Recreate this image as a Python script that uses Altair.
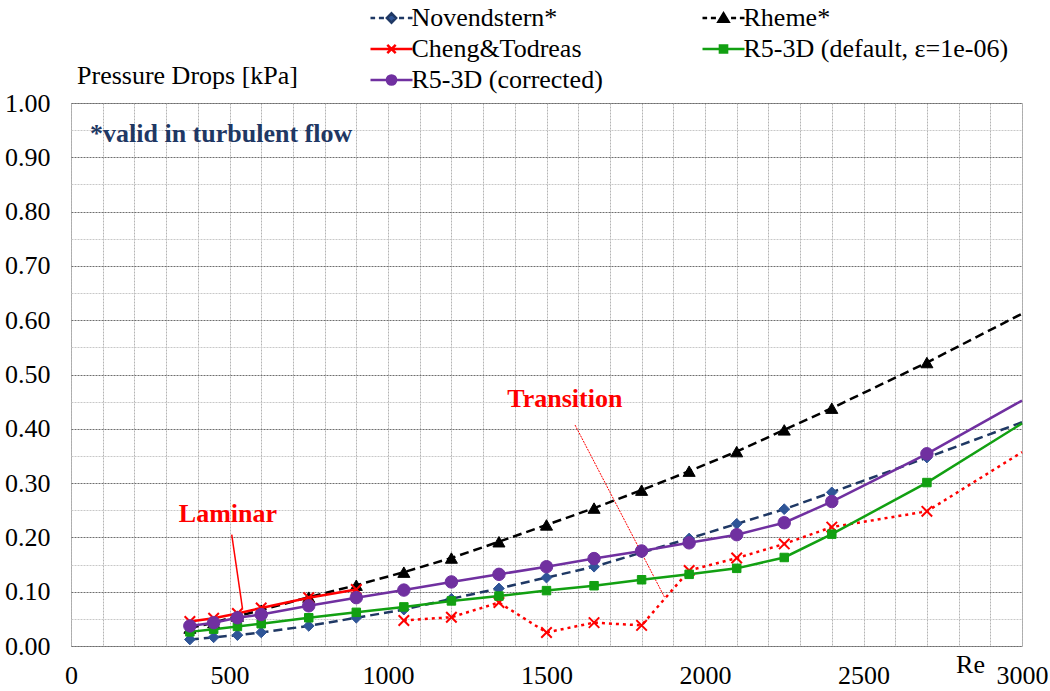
import altair as alt
import pandas as pd

# Reynolds numbers of the computed cases
RE = [375, 450, 525, 600, 750, 900, 1050, 1200, 1350, 1500, 1650, 1800,
      1950, 2100, 2250, 2400, 2700, 3000]

# Pressure drops [kPa]
NOVENDSTERN = [0.012, 0.016, 0.020, 0.025, 0.037, 0.052, 0.067, 0.087, 0.106,
               0.126, 0.146, 0.172, 0.198, 0.225, 0.252, 0.283, 0.347, 0.412]
RHEME = [0.033, 0.043, 0.055, 0.066, 0.090, 0.112, 0.136, 0.162, 0.192,
         0.223, 0.254, 0.287, 0.322, 0.358, 0.398, 0.438, 0.522, 0.612]
CHENG_LAMINAR_RE = [375, 450, 525, 600, 750, 900]
CHENG_LAMINAR = [0.045, 0.051, 0.060, 0.070, 0.089, 0.104]
CHENG_TURB_RE = [1050, 1200, 1350, 1500, 1650, 1800, 1950, 2100, 2250, 2400,
                 2700, 3000]
CHENG_TURB = [0.047, 0.053, 0.080, 0.025, 0.043, 0.038, 0.139, 0.162, 0.188,
              0.219, 0.248, 0.357]
R5_DEFAULT = [0.026, 0.031, 0.036, 0.041, 0.052, 0.062, 0.072, 0.083, 0.092,
              0.102, 0.111, 0.122, 0.132, 0.143, 0.163, 0.206, 0.301, 0.410]
R5_CORRECTED = [0.037, 0.043, 0.052, 0.058, 0.074, 0.089, 0.103, 0.118, 0.132,
                0.146, 0.161, 0.175, 0.190, 0.205, 0.227, 0.266, 0.354, 0.452]

SERIES = ["Novendstern*", "Rheme*", "Cheng&Todreas",
          "R5-3D (default, ε=1e-06)", "R5-3D (corrected)"]
LINE_COLORS = ["#1F3864", "#000000", "#FF0000", "#12A012", "#7030A0"]
MARKER_COLORS = ["#2F5597", "#000000", "#FF0000", "#12A012", "#7030A0"]

# Tick values
X_TICKS = list(range(0, 3001, 100))
Y_TICKS = [round(i * 0.05, 2) for i in range(21)]

# Annotations
NOTE_TEXT = ["Laminar", "Transition"]
NOTE_RE = [495, 1558]
NOTE_DP = [0.228, 0.440]
PTR_RE = [507, 1590]
PTR_DP = [0.205, 0.407]
PTR_RE2 = [541, 1874]
PTR_DP2 = [0.069, 0.088]
VALID_TEXT = "*valid in turbulent flow"
VALID_RE = 60
VALID_DP = 0.928

FONT = "Liberation Serif"
TXT = 26
X_PT = "M-1,-1L1,1M-1,1L1,-1"

# Legend glyphs: line sample with the marker in the middle (unit box -2..2)
DASHES = "M-2,0H-1.56M-1.2,0H-0.72M0.72,0H1.2M1.56,0H2"
SOLID = "M-2,0H2"
LEGEND_PATHS = [
    DASHES + "M0,-0.44L0.44,0L0,0.44L-0.44,0Z",
    DASHES + "M0,-0.44L0.48,0.36L-0.48,0.36Z",
    SOLID + "M-0.4,-0.4L0.4,0.4M-0.4,0.4L0.4,-0.4",
    SOLID + "M-0.34,-0.34H0.34V0.34H-0.34Z",
    SOLID + "M0.44,0A0.44,0.44,0,1,1,-0.44,0A0.44,0.44,0,1,1,0.44,0Z",
]

legend = alt.Legend(
    title=None, orient="none", direction="horizontal", legendX=297,
    legendY=-98, columns=2, columnPadding=94, rowPadding=5, padding=0,
    labelFont=FONT, labelFontSize=TXT, labelColor="black", labelOffset=7,
    labelLimit=500, symbolSize=441, symbolOffset=10.5, symbolStrokeWidth=2.5,
    symbolOpacity=1,
)

x_axis = alt.Axis(
    values=X_TICKS, labelExpr="datum.value % 500 === 0 ? datum.label : ''",
    format="d", grid=True, gridColor="#B4B4B4", gridDash=[2, 1], gridWidth=1,
    domain=False, ticks=False, tickSize=0, labelFont=FONT, labelFontSize=TXT,
    labelColor="black", labelPadding=16, labelFlush=False, labelOverlap=False,
    title="Re", titleFont=FONT, titleFontSize=TXT, titleFontWeight="normal",
    titleColor="black", titleX=899, titleY=26, titleAlign="center",
    titleBaseline="alphabetic",
)
y_axis = alt.Axis(
    values=Y_TICKS,
    labelExpr="round(datum.value*100) % 10 === 0 ? format(datum.value, '.2f') : ''",
    grid=True,
    gridColor={"condition": {"test": "round(datum.value*100) % 10 === 0",
                             "value": "#6E6E6E"},
               "value": "#C8C8C8"},
    gridDash=[2, 1], gridWidth=1, domain=False, ticks=False, tickSize=0,
    labelFont=FONT, labelFontSize=TXT, labelColor="black", labelPadding=21,
    labelOverlap=False,
    title="Pressure Drops [kPa]", titleFont=FONT, titleFontSize=TXT,
    titleFontWeight="normal", titleColor="black", titleAngle=0,
    titleX=116, titleY=-20, titleAlign="center", titleBaseline="alphabetic",
)

X_SCALE = alt.Scale(domain=[0, 3000], nice=False, zero=False)
Y_SCALE = alt.Scale(domain=[0, 1], nice=False, zero=False)
X = alt.X("re:Q", scale=X_SCALE, axis=x_axis)
Y = alt.Y("dp:Q", scale=Y_SCALE, axis=y_axis)


def frame(name, re, dp):
    return pd.DataFrame({"series": name, "re": re, "dp": dp})


# (series index, line pieces [(re, dp, dash)], marker shape, size, stroke width)
SPECS = [
    (0, [(RE, NOVENDSTERN, [9, 5])], "diamond", 115, 1),
    (1, [(RE, RHEME, [9, 5])], "triangle-up", 145, 1),
    (2, [(CHENG_LAMINAR_RE, CHENG_LAMINAR, None),
         (CHENG_TURB_RE, CHENG_TURB, [3, 4])], X_PT, 110, 2),
    (3, [(RE, R5_DEFAULT, None)], "square", 72, 1),
    (4, [(RE, R5_CORRECTED, None)], "circle", 155, 1),
]

layers = []
all_frames = []
for idx, pieces, shape, size, sw in SPECS:
    name = SERIES[idx]
    all_re, all_dp = [], []
    for re, dp, dash in pieces:
        line_kw = dict(color=LINE_COLORS[idx], strokeWidth=2.5)
        if dash:
            line_kw["strokeDash"] = dash
        layers.append(alt.Chart(frame(name, re, dp)).mark_line(**line_kw)
                      .encode(x=X, y=Y))
        all_re += re
        all_dp += dp
    pts = frame(name, all_re, all_dp)
    all_frames.append(pts)
    layers.append(
        alt.Chart(pts).transform_filter("datum.re < 3000")
        .mark_point(filled=True, shape=shape, size=size, opacity=1,
                    fill=MARKER_COLORS[idx], stroke=MARKER_COLORS[idx],
                    strokeWidth=sw)
        .encode(x=X, y=Y)
    )

# Legend carrier: shares the series scales, draws no marks of its own
legend_layer = (
    alt.Chart(pd.concat(all_frames)).transform_filter("false")
    .mark_point(filled=True, opacity=1)
    .encode(
        x=X, y=Y,
        color=alt.Color("series:N", scale=alt.Scale(domain=SERIES, range=MARKER_COLORS),
                        legend=legend),
        stroke=alt.Stroke("series:N", scale=alt.Scale(domain=SERIES, range=LINE_COLORS),
                          legend=legend),
        shape=alt.Shape("series:N", scale=alt.Scale(domain=SERIES, range=LEGEND_PATHS),
                        legend=legend),
    )
)

notes = pd.DataFrame({"text": NOTE_TEXT, "re": NOTE_RE, "dp": NOTE_DP,
                      "re2": PTR_RE2, "dp2": PTR_DP2,
                      "pre": PTR_RE, "pdp": PTR_DP})

PX = alt.X("pre:Q", scale=X_SCALE, axis=x_axis)
PY = alt.Y("pdp:Q", scale=Y_SCALE, axis=y_axis)
laminar_ptr = alt.Chart(notes.iloc[[0]]).mark_rule(
    color="#FF0000", strokeWidth=1.5).encode(x=PX, y=PY, x2="re2:Q", y2="dp2:Q")
transition_ptr = alt.Chart(notes.iloc[[1]]).mark_rule(
    color="#FF0000", strokeWidth=1, strokeDash=[2, 1]).encode(
    x=PX, y=PY, x2="re2:Q", y2="dp2:Q")
note_text = alt.Chart(notes).mark_text(
    font=FONT, fontSize=26, fontWeight="bold", color="#FF0000",
    align="center", baseline="alphabetic").encode(x=X, y=Y, text="text:N")
valid_text = alt.Chart(pd.DataFrame({"re": [VALID_RE], "dp": [VALID_DP],
                                     "text": [VALID_TEXT]})).mark_text(
    font=FONT, fontSize=26, fontWeight="bold", color="#1F3864",
    align="left", baseline="alphabetic").encode(x=X, y=Y, text="text:N")

chart = alt.layer(
    laminar_ptr, transition_ptr, *layers, legend_layer, note_text, valid_text
).properties(
    width=951, height=543,
    autosize=alt.AutoSizeParams(type="none"),
    padding={"left": 71, "top": 103, "right": 28, "bottom": 45},
    background="white",
).configure(
    font=FONT,
).configure_axis(
    labelFont=FONT, titleFont=FONT,
).configure_legend(
    labelFont=FONT,
).configure_view(stroke="#A6A6A6", strokeWidth=1)

chart.save("out.html", embed_options={"renderer": "svg", "actions": False})
